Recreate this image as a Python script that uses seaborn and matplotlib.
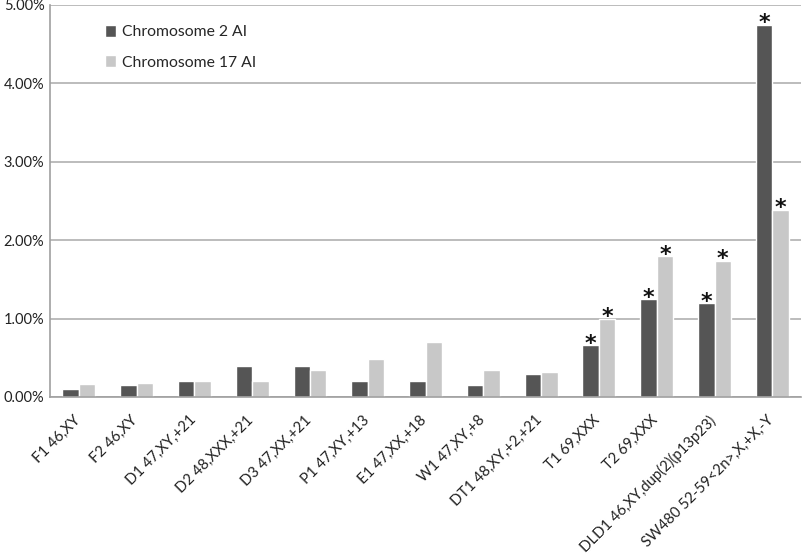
import matplotlib
matplotlib.use("Agg")
import matplotlib.pyplot as plt
import matplotlib.ticker as mticker
import matplotlib.transforms as mtransforms
import seaborn as sns
import pandas as pd
import numpy as np

categories = ["F1 46,XY", "F2 46,XY", "D1 47,XY,+21", "D2 48,XXX,+21", "D3 47,XX,+21",
              "P1 47,XY,+13", "E1 47,XX,+18", "W1 47,XY,+8", "DT1 48,XY,+2,+21",
              "T1 69,XXX", "T2 69,XXX", "DLD1 46,XY,dup(2)(p13p23)", "SW480 52-59<2n>,X,+X,-Y"]
chr2 = [0.10, 0.15, 0.21, 0.39, 0.40, 0.20, 0.20, 0.15, 0.29, 0.66, 1.25, 1.20, 4.75]
chr17 = [0.17, 0.18, 0.20, 0.20, 0.34, 0.48, 0.70, 0.35, 0.32, 1.00, 1.80, 1.74, 2.39]
sig2 = [False]*9 + [True, True, True, True]
sig17 = [False]*9 + [True, True, True, True]
series = ["Chromosome 2 AI", "Chromosome 17 AI"]

df = pd.DataFrame({
    "cat": categories * 2,
    "val": chr2 + chr17,
    "series": [series[0]] * len(categories) + [series[1]] * len(categories),
})

sns.set_theme(style="white")
plt.rcParams["font.family"] = ["Lato", "DejaVu Sans"]

fig = plt.figure(figsize=(8.02, 5.55), dpi=100)
ax = fig.add_axes([50/802, 1 - 397/555, 1 - 50/802 - 0.001, (397 - 5)/555])

sns.barplot(data=df, x="cat", y="val", hue="series", order=categories,
            hue_order=series, palette=["#555555", "#c8c8c8"], width=0.57,
            saturation=1, ax=ax, legend=True)

ax.set_ylim(0, 5)
ax.set_xlim(-0.5, len(categories) - 0.5)
ax.set_yticks([0, 1, 2, 3, 4, 5])
ax.yaxis.set_major_formatter(mticker.FuncFormatter(lambda v, p: f"{v:.2f}%"))
ax.grid(axis="y", color="#b0b0b0", linewidth=1.2)
ax.set_axisbelow(True)
ax.set_xlabel("")
ax.set_ylabel("")

for s in ["top", "right"]:
    ax.spines[s].set_visible(False)
for s in ["left", "bottom"]:
    ax.spines[s].set_color("#a0a0a0")
    ax.spines[s].set_linewidth(1.2)

ax.tick_params(axis="y", length=0, labelsize=10.5, pad=4, labelcolor="#222222")
ax.set_xticks(range(len(categories)))
ax.set_xticklabels(categories, rotation=45, ha="right", rotation_mode="anchor",
                   fontsize=10.7, color="#222222")
ax.tick_params(axis="x", which="major", length=0, pad=10)
ax.set_xticks(np.arange(0.5, len(categories) - 0.5, 1), minor=True)
ax.tick_params(axis="x", which="minor", length=5, width=1, color="#a0a0a0", direction="out")
offset = mtransforms.ScaledTranslation(-6/100, -2/100, fig.dpi_scale_trans)
for lab in ax.get_xticklabels():
    lab.set_transform(lab.get_transform() + offset)

# asterisks
for cont, sig in zip(ax.containers, [sig2, sig17]):
    for bar, s in zip(cont.patches, sig):
        if s:
            ax.annotate("*", (bar.get_x() + bar.get_width() / 2, bar.get_height()),
                        xytext=(0, -3.5), textcoords="offset points",
                        ha="center", va="baseline", fontsize=16, fontweight="bold",
                        color="#111111", family="DejaVu Sans")

leg = ax.legend(loc="upper left", bbox_to_anchor=(0.055, 0.985), frameon=False,
                fontsize=11.3, handlelength=0.7, handleheight=0.8, handletextpad=0.35,
                labelspacing=1.0)

fig.savefig("out.png", dpi=100)
